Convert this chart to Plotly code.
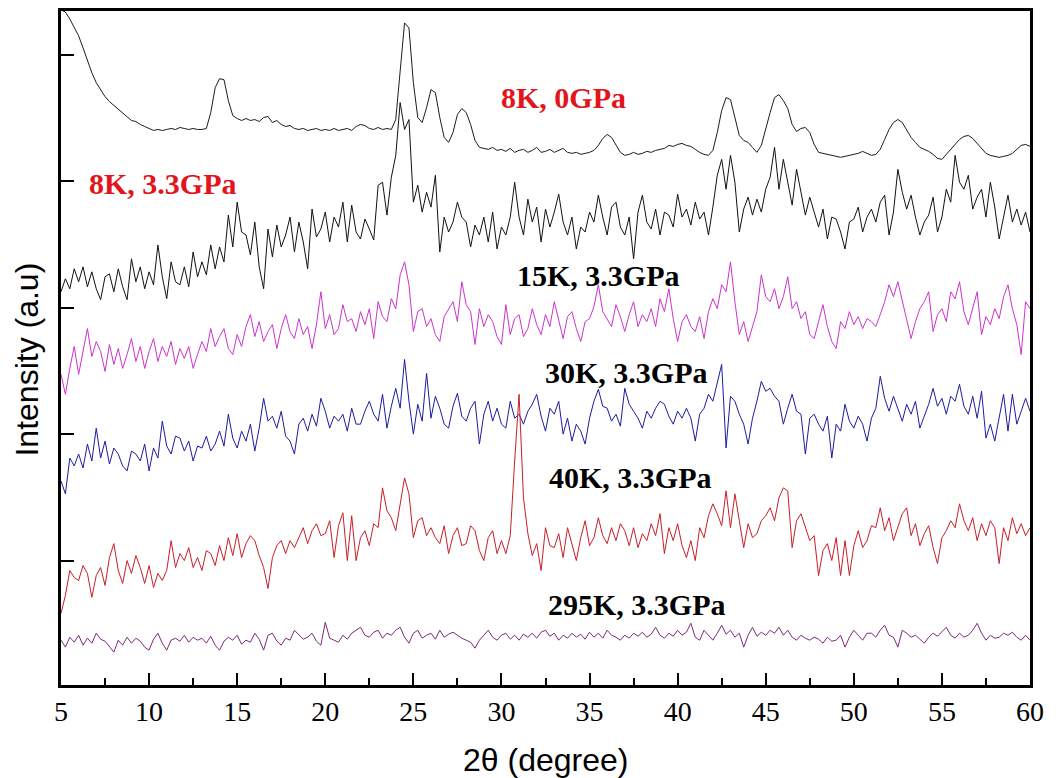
import plotly.graph_objects as go

# 2-theta grid: start and step (degrees)
theta_start = 5.0
theta_step = 0.25

# Intensities (a.u., stacked as displayed), one value per 0.25 deg from 5 to 60
k8_0gpa = [
    678, 676, 669, 661,
    652, 640, 627, 615,
    605, 598, 591, 586,
    582, 579, 575, 570,
    567, 566, 563, 561,
    559, 557, 558, 557,
    558, 559, 558, 560,
    559, 558, 559, 558,
    558, 559, 575, 600,
    609, 608, 587, 572,
    569, 567, 569, 567,
    568, 566, 570, 571,
    565, 567, 563, 561,
    562, 559, 558, 559,
    557, 558, 559, 557,
    558, 557, 559, 557,
    558, 559, 557, 561,
    563, 562, 559, 558,
    560, 558, 559, 558,
    568, 615, 665, 660,
    605, 570, 565, 580,
    598, 595, 570, 550,
    545, 555, 573, 579,
    575, 563, 547, 540,
    539, 538, 540, 537,
    538, 536, 539, 535,
    537, 538, 535, 537,
    540, 535, 536, 538,
    535, 537, 539, 535,
    534, 535, 533, 534,
    535, 537, 542, 549,
    553, 550, 543, 535,
    532, 533, 535, 533,
    534, 536, 535, 537,
    538, 539, 542, 541,
    543, 544, 542, 541,
    538, 535, 533, 532,
    537, 555, 577, 590,
    588, 570, 552, 547,
    545, 540, 535, 542,
    560, 575, 590, 593,
    587, 579, 563, 556,
    559, 560, 555, 543,
    535, 534, 533, 532,
    531, 530, 531, 532,
    533, 534, 536, 534,
    532, 533, 538, 548,
    558, 565, 568, 565,
    557, 550, 545, 540,
    538, 536, 533, 529,
    528, 533, 539, 543,
    548, 551, 552, 549,
    544, 538, 534, 532,
    531, 530, 531, 532,
    534, 538, 542, 543,
    541,
]

k8_33gpa = [
    395, 408, 398, 418,
    405, 420, 400, 415,
    398, 387, 410, 413,
    395, 418, 400, 387,
    428, 405, 420, 398,
    415, 402, 442, 410,
    388, 425, 405, 402,
    420, 400, 435, 410,
    425, 412, 442, 418,
    440, 425, 472, 440,
    485, 455, 452, 432,
    465, 420, 398, 458,
    430, 462, 440, 452,
    470, 435, 465, 445,
    418, 478, 450, 458,
    475, 445, 470, 460,
    485, 445, 482, 455,
    448, 468, 458, 447,
    502, 505, 472, 510,
    532, 585, 558, 568,
    485, 502, 475, 495,
    480, 512, 435, 470,
    455, 465, 485, 470,
    465, 440, 462, 452,
    470, 445, 475, 438,
    460, 452, 470, 505,
    470, 452, 488, 465,
    480, 445, 478, 460,
    475, 493, 465, 452,
    470, 438, 460, 455,
    475, 465, 492, 470,
    452, 480, 485, 460,
    452, 470, 428, 475,
    492, 465, 458, 478,
    452, 475, 472, 460,
    493, 470, 478, 462,
    485, 468, 475, 452,
    480, 512, 528, 498,
    532, 505, 455, 478,
    490, 472, 488, 475,
    498, 510, 540, 498,
    528, 505, 482, 518,
    495, 472, 490, 475,
    460, 478, 448, 470,
    468, 455, 438, 465,
    468, 480, 455, 470,
    478, 465, 485, 492,
    452, 475, 518, 495,
    478, 492, 470, 452,
    465, 472, 490, 455,
    470, 498, 485, 532,
    505, 498, 512, 478,
    490, 498, 470, 505,
    480, 448, 470, 492,
    465, 478, 462, 475,
    455,
]

k15_33gpa = [
    312, 292, 318, 340,
    312, 335, 358, 330,
    345, 335, 315, 342,
    322, 338, 318, 332,
    348, 325, 340, 318,
    335, 348, 325, 340,
    330, 345, 322, 338,
    328, 340, 318, 332,
    345, 335, 358, 340,
    350, 358, 338, 332,
    352, 340, 360, 372,
    350, 365, 345, 355,
    362, 338, 358, 372,
    355, 348, 368, 352,
    360, 338, 362, 395,
    358, 372, 352, 358,
    382, 365, 368, 355,
    375, 362, 378, 348,
    385, 370, 365, 388,
    378, 412, 425, 402,
    355, 375, 378, 360,
    368, 352, 345, 370,
    378, 385, 365, 405,
    382, 375, 342, 378,
    360, 372, 365, 350,
    342, 382, 352, 368,
    372, 350, 358, 378,
    362, 352, 372, 360,
    385, 365, 348, 370,
    375, 358, 345, 365,
    368, 380, 402, 375,
    368, 360, 382, 370,
    355, 372, 385, 360,
    372, 365, 378, 360,
    388, 375, 398, 368,
    345, 365, 372, 360,
    355, 370, 348, 375,
    388, 378, 402, 395,
    425, 385, 352, 365,
    345, 360, 375, 412,
    390, 385, 398, 378,
    390, 410, 378, 385,
    368, 375, 352, 348,
    365, 382, 360, 345,
    338, 365, 358, 375,
    362, 370, 358, 368,
    365, 360, 372, 385,
    402, 390, 405, 385,
    368, 348, 365, 378,
    385, 395, 355, 372,
    378, 365, 395, 388,
    405, 375, 362, 380,
    395, 352, 370, 362,
    378, 368, 390, 402,
    378, 362, 332, 385,
    378,
]

k30_33gpa = [
    205, 192, 228, 220,
    232, 218, 242, 225,
    258, 228, 245, 222,
    238, 232, 220, 215,
    235, 232, 225, 242,
    215, 238, 228, 265,
    240, 232, 250, 248,
    235, 245, 225, 240,
    238, 250, 235, 242,
    255, 240, 272, 248,
    238, 255, 245, 262,
    235, 258, 288, 265,
    270, 258, 275, 250,
    245, 232, 262, 268,
    255, 272, 260, 288,
    275, 258, 270, 265,
    272, 255, 278, 262,
    262, 275, 285, 272,
    265, 292, 258, 280,
    298, 278, 327, 285,
    252, 282, 265, 313,
    268, 290, 278, 262,
    258, 280, 293, 270,
    265, 278, 285, 242,
    272, 285, 265, 278,
    262, 258, 285, 268,
    272, 262, 275, 282,
    292, 270, 255, 278,
    272, 285, 252, 268,
    245, 262, 255, 242,
    268, 285, 297, 280,
    278, 265, 272, 260,
    298, 282, 275, 268,
    258, 275, 268, 278,
    285, 282, 270, 262,
    275, 268, 278, 268,
    245, 272, 278, 292,
    285, 305, 322, 238,
    290, 285, 272, 262,
    242, 268, 285, 305,
    295, 298, 290, 285,
    262, 278, 292, 275,
    272, 232, 268, 272,
    262, 255, 270, 228,
    262, 255, 282, 265,
    258, 270, 262, 245,
    268, 278, 310, 288,
    275, 290, 278, 265,
    282, 272, 285, 258,
    270, 282, 298, 280,
    288, 272, 290, 285,
    302, 280, 272, 290,
    268, 295, 248, 262,
    245, 268, 292, 255,
    292, 262, 275, 288,
    275,
]

k40_33gpa = [
    72, 90, 115, 108,
    105, 120, 112, 88,
    110, 118, 100, 128,
    142, 115, 102, 125,
    112, 130, 118, 102,
    120, 98, 112, 105,
    115, 145, 118, 132,
    125, 138, 118, 128,
    115, 135, 132, 120,
    140, 125, 148, 130,
    152, 128, 142, 150,
    145, 130, 118, 97,
    128, 140, 145, 132,
    145, 138, 148, 158,
    142, 155, 162, 150,
    152, 165, 128, 160,
    173, 125, 170, 125,
    148, 155, 140, 162,
    158, 198, 175, 168,
    155, 182, 208, 192,
    148, 165, 168, 150,
    158, 148, 142, 160,
    132, 150, 158, 140,
    142, 160, 155, 135,
    125, 148, 155, 132,
    145, 132, 150, 225,
    292, 188, 152, 130,
    142, 115, 158, 140,
    138, 152, 128, 158,
    142, 125, 148, 165,
    140, 148, 168, 150,
    142, 158, 145, 162,
    155, 140, 158, 138,
    152, 145, 162, 150,
    172, 132, 158, 145,
    162, 140, 128, 145,
    125, 158, 148, 170,
    182, 172, 160, 195,
    158, 192, 165, 138,
    162, 148, 152, 165,
    170, 178, 165, 188,
    198, 195, 138, 165,
    172, 158, 145, 150,
    110, 135, 142, 125,
    148, 110, 145, 110,
    140, 155, 138, 145,
    160, 158, 178, 155,
    168, 145, 158, 172,
    178, 150, 162, 140,
    152, 160, 138, 122,
    148, 155, 165, 158,
    182, 165, 155, 168,
    145, 162, 150, 165,
    158, 122, 158, 145,
    168, 152, 162, 150,
    158,
]

k295_33gpa = [
    45, 38, 48, 43,
    50, 40, 47, 42,
    52, 46, 44, 38,
    33, 45, 40, 48,
    42, 47, 44, 38,
    35, 46, 52, 42,
    35, 45, 47, 44,
    50, 43, 48, 45,
    47, 42, 49, 40,
    35, 44, 48, 45,
    50, 41, 45, 43,
    52, 46, 35, 50,
    52, 44, 40, 47,
    45, 55, 50, 46,
    48, 52, 44, 40,
    63, 47, 45, 43,
    50, 46, 52, 55,
    58, 50, 48, 53,
    55, 47, 52, 50,
    55, 58, 48, 42,
    52, 55, 47, 50,
    52, 46, 55, 48,
    51, 53, 50, 47,
    45, 43, 37, 45,
    50, 55, 48, 45,
    50, 52, 46, 50,
    45, 51, 48, 52,
    47, 53, 55, 49,
    52, 45, 50, 47,
    52, 48, 51, 46,
    53, 48, 52, 47,
    55, 50, 48, 45,
    50, 47, 52, 49,
    53, 48, 51, 58,
    50, 47, 52, 49,
    55, 50, 53, 62,
    48, 45, 55, 50,
    45, 52, 60, 51,
    55, 48, 52, 38,
    50, 58, 49, 53,
    50, 55, 52, 58,
    50, 55, 48, 45,
    50, 47, 45, 48,
    46, 42, 48, 44,
    45, 50, 38, 48,
    55, 50, 45, 52,
    52, 48, 55, 60,
    50, 48, 38, 55,
    52, 48, 50, 46,
    42, 48, 52, 49,
    53, 58, 50, 47,
    52, 48, 50, 55,
    62, 52, 45, 50,
    47, 48, 52, 50,
    53, 48, 45, 50,
    45,
]

series_names = ["8K, 0GPa", "8K, 3.3GPa", "15K, 3.3GPa", "30K, 3.3GPa", "40K, 3.3GPa", "295K, 3.3GPa"]
series_values = [k8_0gpa, k8_33gpa, k15_33gpa, k30_33gpa, k40_33gpa, k295_33gpa]
series_colors = ["#1c1c1c", "#111111", "#cc33cc", "#1c1ca0", "#c81e28", "#7a2a7a"]

y_ticks = [125, 252, 379, 506, 633]

fig = go.Figure()
for name, vals, col in zip(series_names, series_values, series_colors):
    assert len(vals) == 221, (name, len(vals))
    xs = [theta_start + theta_step * i for i in range(len(vals))]
    fig.add_trace(go.Scatter(x=xs, y=vals, mode="lines", name=name,
                             line=dict(color=col, width=1), showlegend=False))

label_font = dict(family="Liberation Serif, Times New Roman, serif", size=30)
labels = [
    ("8K, 0GPa", 33.5, 590, "#e3141b"),
    ("8K, 3.3GPa", 10.8, 504, "#e3141b"),
    ("15K, 3.3GPa", 35.5, 411, "#000000"),
    ("30K, 3.3GPa", 37.1, 314, "#000000"),
    ("40K, 3.3GPa", 37.3, 208, "#000000"),
    ("295K, 3.3GPa", 37.7, 81, "#000000"),
]
for txt, lx, ly, col in labels:
    fig.add_annotation(x=lx, y=ly, xref="x", yref="y", text="<b>" + txt + "</b>",
                       showarrow=False, xanchor="center", yanchor="middle",
                       font=dict(color=col, **label_font))

title_font = dict(family="Liberation Sans, Arial, sans-serif", size=32, color="#000000")
fig.add_annotation(x=0.4995, y=-0.111, xref="paper", yref="paper", text="2θ (degree)",
                   showarrow=False, xanchor="center", yanchor="middle", font=title_font)
fig.add_annotation(x=-0.035, y=0.483, xref="paper", yref="paper", text="Intensity (a.u)",
                   showarrow=False, xanchor="center", yanchor="middle", textangle=-90,
                   font=title_font)

fig.update_layout(
    width=1058, height=778,
    margin=dict(l=61, r=28, t=8, b=93),
    paper_bgcolor="white", plot_bgcolor="white",
    xaxis=dict(range=[5, 60], tickmode="linear", tick0=5, dtick=5, ticks="inside",
               ticklen=12, tickwidth=2, tickcolor="black", showline=True, linewidth=2.5,
               linecolor="black", mirror=True, showgrid=False, zeroline=False,
               tickfont=dict(family="Liberation Serif, Times New Roman, serif", size=28, color="black"),
               minor=dict(tickmode="linear", tick0=5, dtick=2.5, ticks="inside", ticklen=7,
                          tickwidth=2, tickcolor="black", showgrid=False)),
    yaxis=dict(range=[0, 677], tickvals=y_ticks, showticklabels=False, ticks="inside",
               ticklen=13, tickwidth=2, tickcolor="black", showline=True, linewidth=2.5,
               linecolor="black", mirror=True, showgrid=False, zeroline=False),
)

fig.write_html("out.html")
